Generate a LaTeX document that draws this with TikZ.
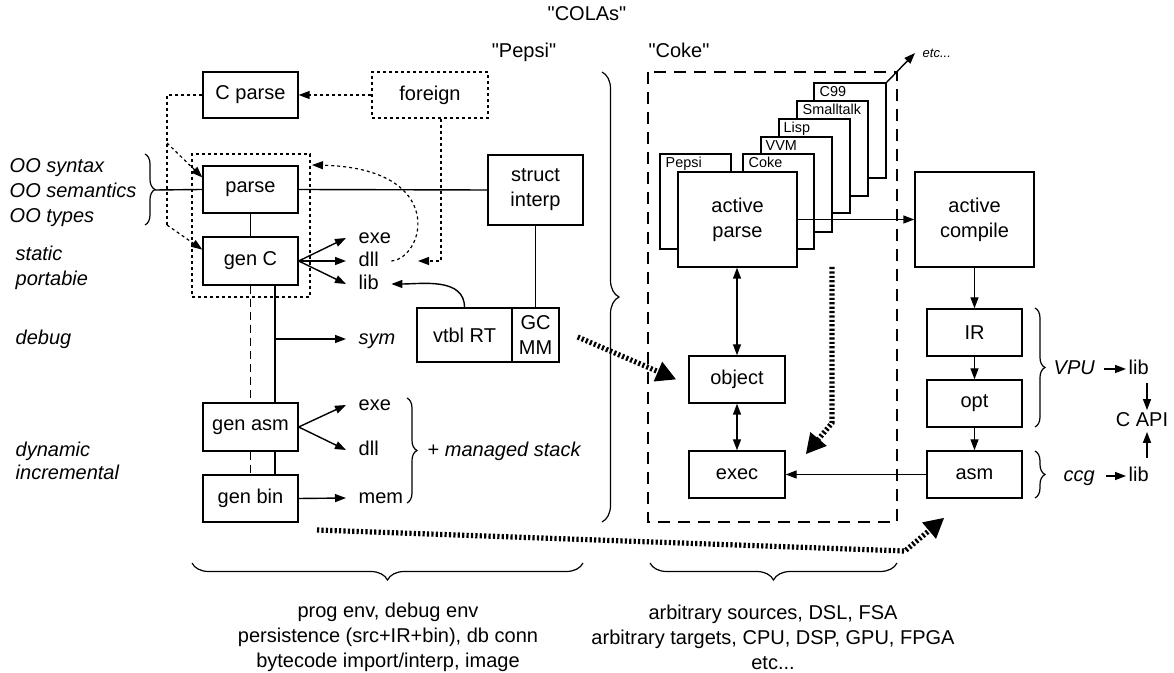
\documentclass[tikz,border=0pt]{standalone}
\usepackage{fontspec}
\setmainfont{Liberation Sans}
\newfontfamily\plainq{Liberation Sans}[Ligatures=TeXOff]
\usetikzlibrary{arrows.meta,decorations.pathreplacing,calc}
\tikzset{
  box/.style={draw, fill=white, inner sep=0pt, align=center, line width=0.7pt},
  lbl/.style={inner xsep=0pt, inner ysep=0pt, text height=5.2pt, text depth=0pt, anchor=west},
  tgt/.style={inner xsep=6pt, inner ysep=0pt, text height=5.2pt, text depth=0pt, anchor=west},
  dots/.style={dash pattern=on 1.5pt off 1.5pt, line width=0.6pt},
  dsh/.style={dash pattern=on 4pt off 2.5pt, line width=0.6pt},
  arr/.style={-{Triangle[length=5.5pt,width=4pt]}},
  darr/.style={{Triangle[length=5.5pt,width=4pt]}-{Triangle[length=5.5pt,width=4pt]}},
  bigdot/.style={line width=2.6pt, dash pattern=on 1.1pt off 1.1pt, -{Triangle[length=10pt,width=10pt]}},
  brc/.style={decorate, decoration={brace, amplitude=#1}, line width=0.6pt},
  brc/.default=5pt,
  stk/.style={draw, fill=white, line width=0.7pt},
  small/.style={font=\fontsize{7.2}{8}\selectfont, inner sep=0pt, anchor=base west}
}
\begin{document}
\begin{tikzpicture}[x=0.5pt,y=-0.5pt, font=\fontsize{10}{12.5}\selectfont, line width=0.7pt]
\useasboundingbox (0,0) rectangle (1174,673);

% top labels
\node[lbl, anchor=center, font=\fontsize{10}{12.5}\selectfont\plainq] (colas) at (587,15) {"COLAs"};
\node[lbl, anchor=center, font=\fontsize{10}{12.5}\selectfont\plainq] (pepsil) at (524,52) {"Pepsi"};
\node[lbl, anchor=center, font=\fontsize{10}{12.5}\selectfont\plainq] (cokel) at (679,52) {"Coke"};

% left italic labels
\node[lbl] (oo1) at (9,167) {\itshape OO syntax};
\node[lbl] (oo2) at (9,192) {\itshape OO semantics};
\node[lbl] (oo3) at (9,217) {\itshape OO types};
\node[lbl] (stat) at (15,255) {\itshape static};
\node[lbl] (port) at (15,280) {\itshape portabie};
\node[lbl] (dbg) at (15,339) {\itshape debug};
\node[lbl] (dyn) at (15,451) {\itshape dynamic};
\node[lbl] (incr) at (15,474) {\itshape incremental};
\draw[brc] (145,154) -- (145,225);
\coordinate (oot) at (155,190);

% Pepsi boxes
\node[box, minimum width=47.5pt, minimum height=23pt] (cparse) at (250.5,95) {C parse};
\node[box, dots, minimum width=58pt, minimum height=23pt] (foreign) at (430,95) {foreign};
\node[draw, dots, minimum width=59pt, minimum height=71.5pt, inner sep=0pt] (dbox) at (251,225.5) {};
\node[box, minimum width=47.5pt, minimum height=23.5pt] (parse) at (250.5,189.5) {parse};
\node[box, minimum width=47.5pt, minimum height=24pt] (genc) at (250.5,261) {gen C};
\node[box, minimum width=47.5pt, minimum height=35pt] (struct) at (535.5,190) {struct\\interp};
\node[box, minimum width=47.5pt, minimum height=27pt] (vtbl) at (464.5,335) {vtbl RT};
\node[box, minimum width=23.5pt, minimum height=27pt] (gcmm) at (535.5,335) {GC\\MM};
\node[box, minimum width=47.5pt, minimum height=24pt] (genasm) at (250.5,427) {gen asm};
\node[box, minimum width=47.5pt, minimum height=23.5pt] (genbin) at (250.5,498.5) {gen bin};

% targets of gen C
\node[tgt] (exe1) at (346,238) {exe};
\node[tgt] (dll1) at (346,261) {dll};
\node[tgt] (lib1) at (346,284) {lib};
\node[tgt] (sym) at (346,339) {\itshape sym};
\node[tgt] (exe2) at (346,405) {exe};
\node[tgt] (dll2) at (346,450) {dll};
\node[tgt] (mem) at (346,498) {mem};
\draw[brc] (407,398) -- (407,503);
\node[lbl] (mstack) at (427,451) {+ \itshape managed stack};

% connectors left part
\draw (oot) -- (parse.west);
\draw (parse.east) -- (struct.west);
\draw (parse.south) -- (genc.north);
\draw (struct.south) -- (gcmm.north);
\draw[arr] (genc.east) -- (exe1.west);
\draw[arr] (genc.east) -- (dll1.west);
\draw[arr] (genc.east) -- (lib1.west);
\coordinate (sx) at (275,0);
\coordinate (symy) at (275,339);
\draw (genc.south -| sx) -- (genasm.north -| sx);
\draw (genasm.south -| sx) -- (genbin.north -| sx);
\draw[arr] (symy) -- (sym.west);
\draw[dsh] (genc.south) -- (genasm.north);
\draw[dsh] (genasm.south) -- (genbin.north);
\draw[arr] (genasm.east) -- (exe2.west);
\draw[arr] (genasm.east) -- (dll2.west);
\draw[arr] (genbin.east) -- (mem.west);
\draw[arr] (vtbl.north) to[out=90,in=0] (lib1.east);

% dotted connectors
\coordinate (dv1) at (167,143);
\coordinate (dv2) at (167,225);
\draw[dots,arr] (foreign.west) -- (cparse.east);
\draw[dots] (cparse.west) -| (dv2);
\draw[dots,arr] (dv1) -- ($(parse.north west)!0.25!(parse.south west)$);
\draw[dots,arr] (dv2) -- ($(genc.north west)!0.27!(genc.south west)$);
\coordinate (fv) at (441,261);
\coordinate (fend) at (418,261);
\draw[dots,arr] (foreign.south -| fv) -- (fv) -- (fend);
\coordinate (dtip) at (312,165);
\draw[dots,arr] (dll1.east) .. controls (425,258) and (448,168) .. (dtip);

% Pepsi brace
\draw[brc=8.5pt] (602,72) -- (602,522);

% Coke dashed region
\draw[dash pattern=on 6pt off 4pt, line width=0.6pt] (648,72) rectangle (897,522);

% stacked language boxes
\node[stk, minimum width=36pt, minimum height=47.5pt, inner sep=0pt] (c99) at (850,130.5) {};
\node[small] at (819,97) {C99};
\node[stk, minimum width=35.5pt, minimum height=47.5pt, inner sep=0pt] (st) at (832.5,148.5) {};
\node[small] at (802,115) {Smalltalk};
\node[stk, minimum width=35.5pt, minimum height=47pt, inner sep=0pt] (lisp) at (814.5,166) {};
\node[small] at (783,133) {Lisp};
\node[stk, minimum width=35.5pt, minimum height=47.5pt, inner sep=0pt] (vvm) at (796.5,184.5) {};
\node[small] at (765,151) {VVM};
\node[stk, minimum width=35.5pt, minimum height=47.5pt, inner sep=0pt] (cokeb) at (778.5,201.5) {};
\node[small] at (748,168) {Coke};
\node[stk, minimum width=35.5pt, minimum height=47.5pt, inner sep=0pt] (pepsib) at (695.5,201.5) {};
\node[small] at (665,168) {Pepsi};
\node[box, minimum width=59.5pt, minimum height=47.5pt] (aparse) at (737.5,219.5) {active\\parse};
\coordinate (etcend) at (915,53);
\draw[arr] (c99.north east) -- (etcend);
\node[small, font=\fontsize{6.5}{8}\selectfont\itshape] (etc) at (922,58) {etc...};

\node[box, minimum width=48pt, minimum height=23.5pt] (object) at (737,379.5) {object};
\node[box, minimum width=48pt, minimum height=23.5pt] (exec) at (737,474.5) {exec};

% right column
\node[box, minimum width=59.5pt, minimum height=47.5pt] (acomp) at (974.5,219.5) {active\\compile};
\node[box, minimum width=47.5pt, minimum height=23.5pt] (ir) at (974.5,332.5) {IR};
\node[box, minimum width=47.5pt, minimum height=23.5pt] (opt) at (974.5,403.5) {opt};
\node[box, minimum width=47.5pt, minimum height=23.5pt] (asm) at (974.5,474.5) {asm};

\draw[arr] (aparse.east) -- (acomp.west);
\draw[arr] (acomp.south) -- (ir.north);
\draw[arr] (ir.south) -- (opt.north);
\draw[arr] (opt.south) -- (asm.north);
\draw[arr] (asm.west) -- (exec.east);
\draw[darr] (aparse.south -| object.north) -- (object.north);
\draw[darr] (object.south) -- (exec.north);

\draw[brc] (1035,308) -- (1035,427);
\draw[brc] (1035,451) -- (1035,498);
\node[lbl] (vpu) at (1053,369) {\itshape VPU};
\node[lbl] (lib2) at (1128,369) {lib};
\node[lbl, anchor=center] (capi) at (1142,421) {C API};
\node[lbl] (ccg) at (1063,476) {\itshape ccg};
\node[lbl] (lib3) at (1128,476) {lib};
\draw[arr] ($(vpu.east)+(8,0)$) -- ($(lib2.west)+(-2,0)$);
\draw[arr] ($(ccg.east)+(10,0)$) -- ($(lib3.west)+(-2,0)$);
\draw[arr] ($(lib2.south west)+(19,8)$) -- ($(capi.north -| lib2.west)+(19,-5)$);
\draw[arr] ($(lib3.north west)+(19,-12)$) -- ($(capi.south -| lib3.west)+(19,5)$);

% thick dotted arrows
\draw[bigdot] ($(gcmm.east)+(18,2)$) -- ($(object.west)+(-12,0)$);
\coordinate (vd1) at (832,267);
\coordinate (vd2) at (832,423);
\draw[bigdot] (vd1) -- (vd2) -- ($(exec.north east)+(20,4)$);
\coordinate (bd1) at (317,530);
\coordinate (bd2) at (905,551);
\draw[bigdot] (bd1) -- (bd2) -- ($(asm.south west)+(18,19)$);

% bottom braces and texts
\draw[brc=8.5pt] (583,563) -- (192,563);
\draw[brc=8.5pt] (897,563) -- (650,563);
\node[align=center, inner sep=0pt] (bl) at (388,637) {prog env, debug env\\persistence (src+IR+bin), db conn\\bytecode import/interp, image};
\node[align=center, inner sep=0pt] (br) at (773,637) {arbitrary sources, DSL, FSA\\arbitrary targets, CPU, DSP, GPU, FPGA\\etc...};
\end{tikzpicture}
\end{document}
